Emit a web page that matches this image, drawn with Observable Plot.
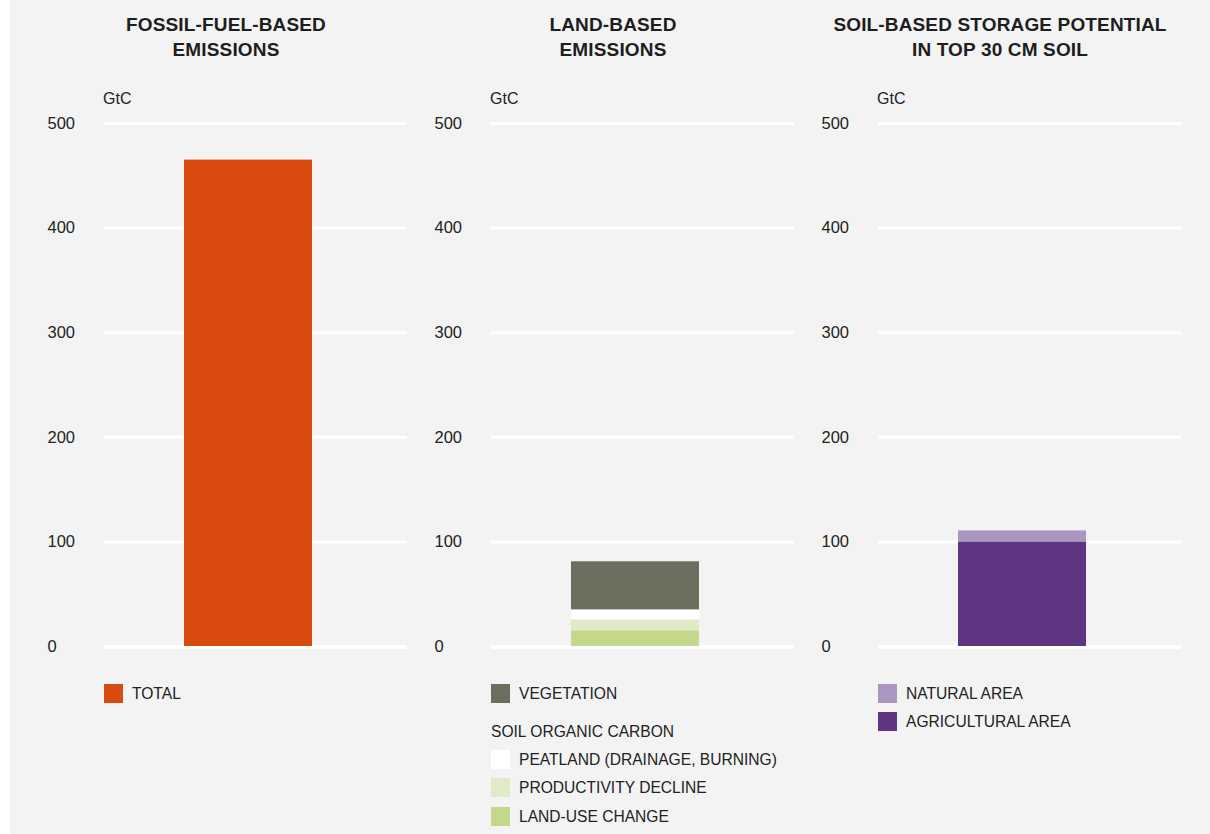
<!DOCTYPE html>
<html>
<head>
<meta charset="utf-8">
<script src="https://cdn.jsdelivr.net/npm/d3@7"></script>
<script src="https://cdn.jsdelivr.net/npm/@observablehq/plot@0.6"></script>
<style>
  html, body { margin: 0; padding: 0; background: #ffffff; }
  #page { position: absolute; left: 10px; top: 0; width: 1200px; height: 834px; background: #f3f3f3; overflow: hidden; }
  #root { position: absolute; left: -10px; top: 0; width: 1210px; height: 834px; font-family: "Liberation Sans", Arial, Helvetica, sans-serif; color: #222; }
  .title { position: absolute; width: 400px; text-align: center; font-weight: bold; font-size: 19px; letter-spacing: 0.15px; line-height: 24.5px; top: 13px; color: #1e1e1e; }
  .unit { position: absolute; font-size: 16px; line-height: 16px; top: 90.5px; color: #222; }
  .plot { position: absolute; top: 80px; }
  .sw { position: absolute; width: 19px; height: 19px; }
  .lt { position: absolute; font-size: 15.6px; line-height: 19px; color: #222; white-space: nowrap; }
</style>
</head>
<body>
<div id="page"><div id="root"></div></div>
<script>
// ---- data ----
const panelTitles = ["FOSSIL-FUEL-BASED\nEMISSIONS", "LAND-BASED\nEMISSIONS", "SOIL-BASED STORAGE POTENTIAL\nIN TOP 30 CM SOIL"];
const unitLabel = "GtC";
const yTicks = [0, 100, 200, 300, 400, 500];

// panel 1
const fossilKeys = ["TOTAL"];
const fossilValues = [465];
const fossilColors = ["#d94a0e"];

// panel 2 (stack order bottom -> top)
const landKeys = ["LAND-USE CHANGE", "PRODUCTIVITY DECLINE", "PEATLAND (DRAINAGE, BURNING)", "VEGETATION"];
const landValues = [15, 10.5, 9.5, 46];
const landColors = ["#c3d88a", "#e1eac6", "#ffffff", "#6b6f5e"];

// panel 3 (stack order bottom -> top)
const soilKeys = ["AGRICULTURAL AREA", "NATURAL AREA"];
const soilValues = [100, 10.5];
const soilColors = ["#5f3582", "#ab96c2"];

// legends (top -> bottom rows)
const legend1 = [{label: "TOTAL", color: "#d94a0e"}];
const legend2 = [
  {label: "VEGETATION", color: "#6b6f5e"},
  {label: "SOIL ORGANIC CARBON", color: null},
  {label: "PEATLAND (DRAINAGE, BURNING)", color: "#ffffff"},
  {label: "PRODUCTIVITY DECLINE", color: "#e1eac6"},
  {label: "LAND-USE CHANGE", color: "#c3d88a"}
];
const legend3 = [
  {label: "NATURAL AREA", color: "#ab96c2"},
  {label: "AGRICULTURAL AREA", color: "#5f3582"}
];

// ---- layout ----
const root = document.getElementById("root");
const origins = [24, 411, 798];
const legendRowsY = [[684], [684, 722, 750, 778, 807], [684, 712]];

function makePanel(i, keys, values, colors, legend) {
  const ox = origins[i];
  const t = document.createElement("div");
  t.className = "title";
  t.style.left = (ox + 2) + "px";
  t.innerHTML = panelTitles[i].split("\n").join("<br>");
  root.appendChild(t);

  const u = document.createElement("div");
  u.className = "unit";
  u.style.left = (ox + 79) + "px";
  u.textContent = unitLabel;
  root.appendChild(u);

  const data = keys.map((k, j) => ({group: "g", key: k, value: values[j]}));
  const chart = Plot.plot({
    width: 387,
    height: 590,
    marginLeft: 80,
    marginRight: 4,
    marginTop: 43,
    marginBottom: 24,
    style: {background: "transparent", fontFamily: "Liberation Sans, Arial, sans-serif", fontSize: "16.5px", color: "#222"},
    x: {type: "band", domain: ["g"], range: [160, 288], padding: 0, axis: null},
    y: {domain: [0, 500], axis: null},
    color: {domain: keys, range: colors},
    marks: [
      Plot.ruleY(yTicks, {stroke: "#ffffff", strokeWidth: 3}),
      Plot.text(yTicks, {y: d => d, text: d => String(d), frameAnchor: "left", textAnchor: "start", dx: -57, fill: "#222", fontSize: 16.5}),
      Plot.barY(data, {x: "group", y: "value", fill: "key"}),
      Plot.ruleY([0], {stroke: "#ffffff", strokeWidth: 3, dy: 1})
    ]
  });
  chart.classList.add("plot");
  chart.style.position = "absolute";
  chart.style.left = ox + "px";
  chart.style.top = "80px";
  root.appendChild(chart);

  legend.forEach((item, j) => {
    const y = legendRowsY[i][j];
    if (item.color) {
      const s = document.createElement("div");
      s.className = "sw";
      s.style.left = (ox + 80) + "px";
      s.style.top = y + "px";
      s.style.background = item.color;
      root.appendChild(s);
      const l = document.createElement("div");
      l.className = "lt";
      l.style.left = (ox + 108) + "px";
      l.style.top = y + "px";
      l.textContent = item.label;
      root.appendChild(l);
    } else {
      const l = document.createElement("div");
      l.className = "lt";
      l.style.left = (ox + 80) + "px";
      l.style.top = y + "px";
      l.textContent = item.label;
      root.appendChild(l);
    }
  });
}

makePanel(0, fossilKeys, fossilValues, fossilColors, legend1);
makePanel(1, landKeys, landValues, landColors, legend2);
makePanel(2, soilKeys, soilValues, soilColors, legend3);
</script>
</body>
</html>
